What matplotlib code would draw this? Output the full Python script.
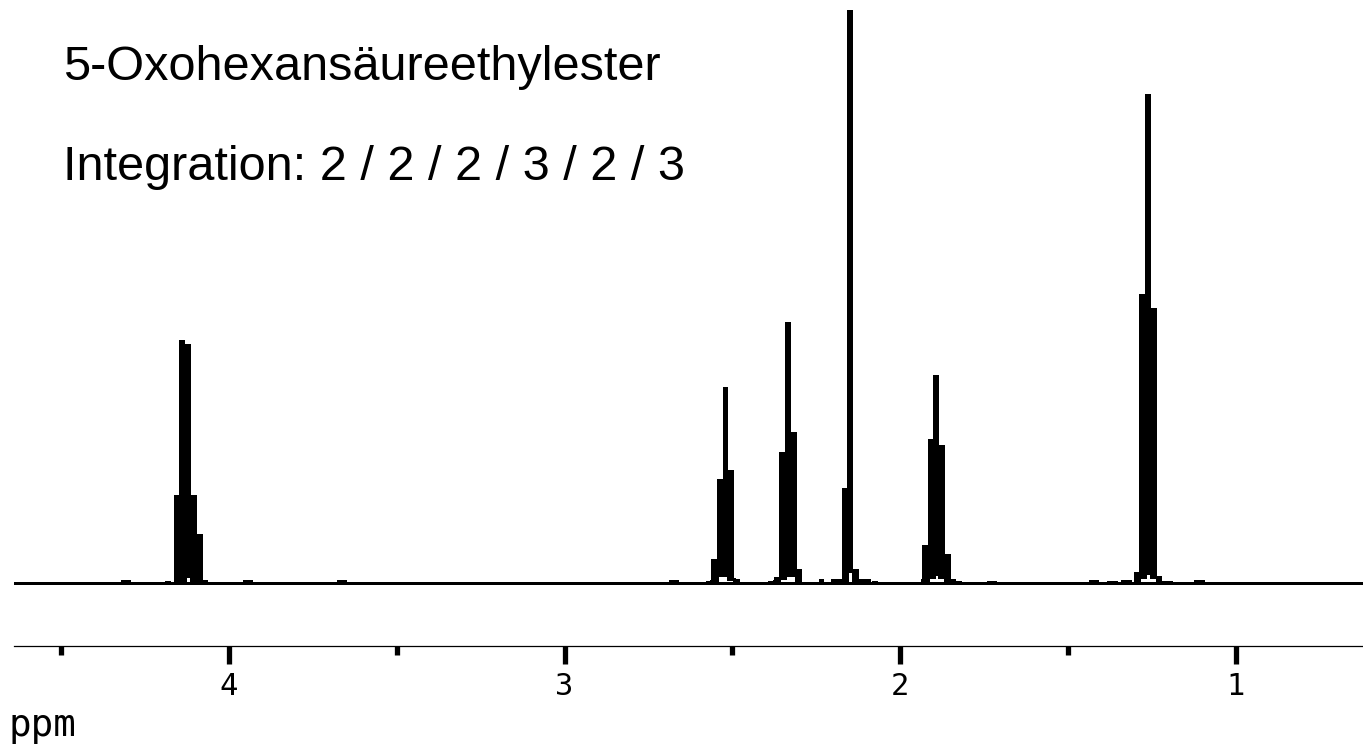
import matplotlib
matplotlib.use('Agg')
import matplotlib.pyplot as plt
import numpy as np

# chemische Verschiebung (ppm) und Signalhoehe (oben / unten) je Multiplett
q41_ppm = [4.181, 4.156, 4.140, 4.122, 4.104, 4.087, 4.071]
q41_top = [2, 88, 243, 239, 88, 49, 3]
q41_bot = [0, 0, 3, 7, 3, 0, 0]

t25_ppm = [2.571, 2.555, 2.537, 2.520, 2.504, 2.487]
t25_top = [2, 24, 104, 196, 113, 4]
t25_bot = [0, 2, 8, 8, 4, 0]

t23_ppm = [2.384, 2.368, 2.352, 2.334, 2.317, 2.301]
t23_top = [2, 6, 131, 261, 151, 14]
t23_bot = [0, 2, 5, 8, 8, 0]

s21_ppm = [2.234, 2.198, 2.181, 2.165, 2.150, 2.132, 2.113, 2.095, 2.074]
s21_top = [4, 4, 4, 95, 573, 14, 4, 4, 2]
s21_bot = [0, 0, 0, 2, 12, 2, 0, 0, 0]

p19_ppm = [1.943, 1.925, 1.908, 1.892, 1.874, 1.857, 1.841, 1.825]
p19_top = [1, 38, 144, 208, 138, 29, 4, 2]
p19_bot = [0, 3, 6, 9, 6, 3, 0, 0]

t12_ppm = [1.295, 1.278, 1.261, 1.243, 1.228]
t12_top = [11, 289, 489, 275, 7]
t12_bot = [0, 6, 10, 6, 0]

# kleine Stoerungen auf der Grundlinie
bump_ppm = [4.307, 3.943, 3.663, 2.674, 1.725, 1.421, 1.367, 1.325, 1.203, 1.107]
bump_h = [3, 3, 3, 3, 2, 3, 2, 3, 2, 3]

major_ticks = [4, 3, 2, 1]
minor_ticks = [4.5, 3.5, 2.5, 1.5]

title = '5-Oxohexansäureethylester'
integration = 'Integration: 2 / 2 / 2 / 3 / 2 / 3'

W, H = 1363, 745
fig = plt.figure(figsize=(W / 100, H / 100), dpi=100)
ax = fig.add_axes([14 / W, (H - 646) / H, 1 - 14 / W, 646 / H])

xmin, xmax = 4.641, 0.620
binw = 0.0172

# Grundlinie
ax.plot([xmin, xmax], [0, 0], color='k', lw=1.9, antialiased=False, solid_capstyle='butt')

multiplets = [(q41_ppm, q41_top, q41_bot), (t25_ppm, t25_top, t25_bot),
              (t23_ppm, t23_top, t23_bot), (s21_ppm, s21_top, s21_bot),
              (p19_ppm, p19_top, p19_bot), (t12_ppm, t12_top, t12_bot)]

for ppm, top, bot in multiplets:
    ppm = np.array(ppm)
    top = np.array(top)
    bot = np.array(bot)
    ax.bar(ppm, top - bot, bottom=bot, width=binw, color='k', linewidth=0,
           antialiased=False)
    # untere Kante (weisser Buckel)
    ax.step(ppm, bot, where='mid', color='k', lw=1.9, antialiased=False)

ax.bar(bump_ppm, bump_h, width=binw * 1.8, color='k', linewidth=0, antialiased=False)

ax.set_xlim(xmin, xmax)
ax.set_ylim(-63, 583)

for s in ['top', 'left', 'right']:
    ax.spines[s].set_visible(False)
ax.spines['bottom'].set_linewidth(0.9)
ax.set_yticks([])
ax.set_xticks(major_ticks)
ax.set_xticklabels([str(t) for t in major_ticks], family='DejaVu Sans Mono',
                   fontsize=22)
ax.set_xticks(minor_ticks, minor=True)
ax.tick_params(axis='x', which='major', direction='out', length=13, width=3.8, pad=6)
ax.tick_params(axis='x', which='minor', direction='out', length=6.5, width=3.8)

fig.text(63 / W, 1 - 80 / H, title, fontsize=35, family='Liberation Sans',
         va='baseline', ha='left')
fig.text(63 / W, 1 - 180 / H, integration, fontsize=35, family='Liberation Sans',
         va='baseline', ha='left')

# Achsenbeschriftung unten links
fig.text(8 / W, 1 / H, 'ppm', fontsize=27, family='DejaVu Sans Mono',
         va='bottom', ha='left')

fig.savefig('out.png', dpi=100)
